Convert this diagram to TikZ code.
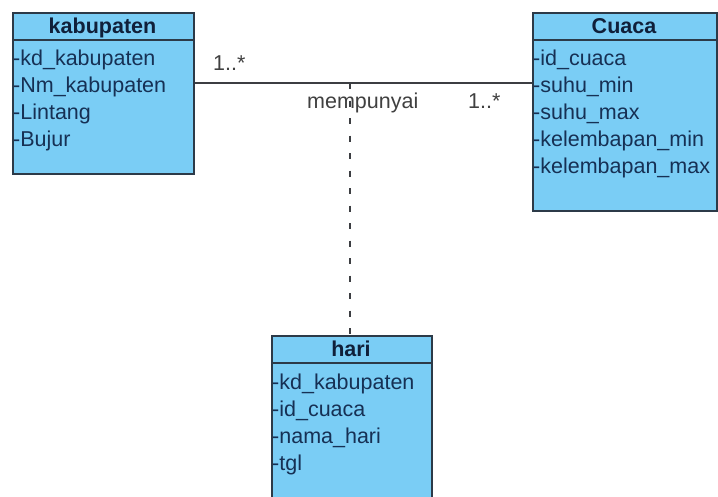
\documentclass[tikz,border=0pt]{standalone}
\usepackage{fontspec}
\setmainfont{Liberation Sans}
\usetikzlibrary{calc}

\definecolor{classfill}{RGB}{122,205,245}
\definecolor{classline}{RGB}{44,58,72}
\definecolor{attrtext}{RGB}{22,48,84}
\definecolor{headtext}{RGB}{16,32,58}
\definecolor{assocline}{RGB}{60,62,66}
\definecolor{labeltext}{RGB}{64,64,64}

\tikzset{
  classbox/.style={draw=classline, fill=classfill, line width=1.8pt,
    rectangle, inner sep=0pt, anchor=north west},
  sepline/.style={draw=classline, line width=1.6pt},
  headlabel/.style={font=\fontsize{21.5}{25}\selectfont\bfseries, text=headtext,
    inner sep=0pt, anchor=base},
  attr/.style={font=\fontsize{21.5}{25}\selectfont, text=attrtext,
    inner sep=0pt, anchor=base west},
  assoc/.style={draw=assocline, line width=1.5pt},
  linkdash/.style={draw=assocline, line width=1.6pt, dash pattern=on 6pt off 11.5pt},
  multlabel/.style={font=\fontsize{21.5}{25}\selectfont, text=labeltext,
    inner sep=0pt, anchor=base west}
}

\begin{document}
\begin{tikzpicture}[x=1pt, y=-1pt]
  \useasboundingbox (0,0) rectangle (718,496);
  \fill[white] (0,0) rectangle (718,496);
  \clip (0,0) rectangle (718,496);

  % class kabupaten
  \node[classbox, minimum width=181pt, minimum height=161pt] (kab) at (12,12) {};
  \draw[sepline] ([yshift=-28pt]kab.north west) -- ([yshift=-28pt]kab.north east);
  \node[headlabel] (kabH) at (102.5,33.5) {kabupaten};
  \node[attr] (kab1) at (13,65) {-kd\_kabupaten};
  \node[attr] (kab2) at (13,92) {-Nm\_kabupaten};
  \node[attr] (kab3) at (13,119) {-Lintang};
  \node[attr] (kab4) at (13,146) {-Bujur};

  % class Cuaca
  \node[classbox, minimum width=184pt, minimum height=198pt] (cua) at (532,12) {};
  \draw[sepline] ([yshift=-28pt]cua.north west) -- ([yshift=-28pt]cua.north east);
  \node[headlabel] (cuaH) at (624,33.5) {Cuaca};
  \node[attr] (cua1) at (533,65) {-id\_cuaca};
  \node[attr] (cua2) at (533,92) {-suhu\_min};
  \node[attr] (cua3) at (533,119) {-suhu\_max};
  \node[attr] (cua4) at (533,146) {-kelembapan\_min};
  \node[attr] (cua5) at (533,173) {-kelembapan\_max};

  % class hari
  \node[classbox, minimum width=160pt, minimum height=175pt] (hari) at (271,335) {};
  \draw[sepline] ([yshift=-28pt]hari.north west) -- ([yshift=-28pt]hari.north east);
  \node[headlabel] (hariH) at (351,356.5) {hari};
  \node[attr] (hari1) at (272,389) {-kd\_kabupaten};
  \node[attr] (hari2) at (272,416) {-id\_cuaca};
  \node[attr] (hari3) at (272,443) {-nama\_hari};
  \node[attr] (hari4) at (272,470) {-tgl};

  % association kabupaten -- Cuaca with link to hari
  \coordinate (mid) at (350,83);
  \draw[assoc] (kab.east |- mid) -- (cua.west |- mid);
  \draw[linkdash] (mid) -- (mid |- hari.north);

  \node[multlabel] (mL) at (213,70) {1..*};
  \node[multlabel] (assocName) at (307,108) {mempunyai};
  \node[multlabel] (mR) at (468,108) {1..*};
\end{tikzpicture}
\end{document}
